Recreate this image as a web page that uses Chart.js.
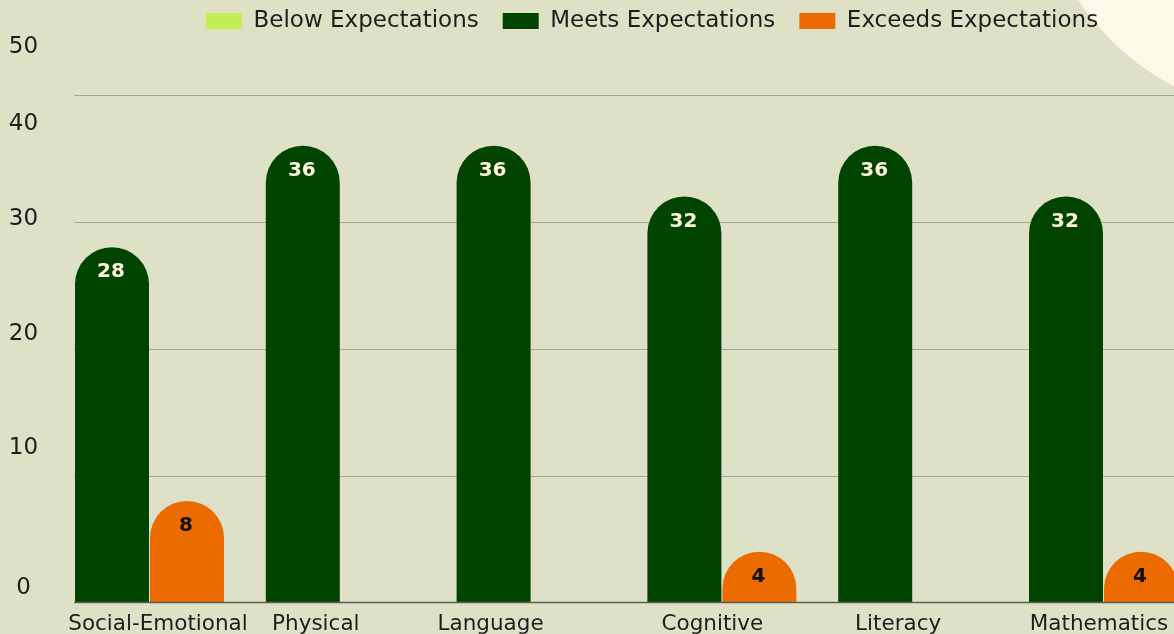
<!DOCTYPE html>
<html>
<head>
<meta charset="utf-8">
<script src="https://cdn.jsdelivr.net/npm/chart.js@4.4.1/dist/chart.umd.min.js"></script>
<style>
html,body{margin:0;padding:0;background:#dee1c6;overflow:hidden}
#wrap{width:1174px;height:634px;position:relative}
canvas{display:block}
</style>
</head>
<body>
<div id="wrap"><canvas id="c" width="1174" height="634"></canvas></div>
<script>
// ---- data ----
const categories = ['Social-Emotional', 'Physical', 'Language', 'Cognitive', 'Literacy', 'Mathematics'];
const seriesNames = ['Below Expectations', 'Meets Expectations', 'Exceeds Expectations'];
const belowValues = [0, 0, 0, 0, 0, 0];
const meetsValues = [28, 36, 36, 32, 36, 32];
const exceedsValues = [8, 0, 0, 4, 0, 4];
const yTickLabels = ['0', '10', '20', '30', '40', '50'];
const gridValues = [10, 20, 30, 40];

// ---- styling / layout ----
const FONT = '"DejaVu Sans", "Liberation Sans", sans-serif';
const BG = '#dee1c6';
const BLOB = '#fdf8e7';
const TEXT = '#1e1e1e';
const COLORS = ['#c3ed50', '#004400', '#ec6b00'];
const VALUE_COLORS = ['#111111', '#fdf4da', '#111111'];
const GRID_COLOR = '#a3a690';
const AXIS_COLOR = '#5c5e54';
const GRID_LEFT = 74;
const Y_LABEL_X = 23.5;
const Y_LABEL_Y = [588, 448, 334, 219, 124, 47];     // visual placement of the y tick labels
const X_LABEL_SHIFT = [46, 13, -3, 28, 23, 33];       // label offset from category centre
const X_LABEL_BASELINE = 630;
const LEGEND_X = 206, LEGEND_Y = 9.5, LEGEND_BAND = 95, LEGEND_PAD = 24;

// Bars with a full half-round top (dome), drawn from the element geometry computed by Chart.js
Chart.BarElement.prototype.draw = function (ctx) {
  const {x, y, base, width} = this.getProps(['x', 'y', 'base', 'width']);
  const h = base - y;
  if (!(h > 0.5)) return;
  const rx = width / 2;
  const ry = Math.min(rx, h);
  ctx.save();
  ctx.fillStyle = this.options.backgroundColor;
  ctx.beginPath();
  ctx.moveTo(x - rx, base);
  ctx.lineTo(x - rx, y + ry);
  ctx.ellipse(x, y + ry, rx, ry, 0, Math.PI, 2 * Math.PI);
  ctx.lineTo(x + rx, base);
  ctx.closePath();
  ctx.fill();
  ctx.restore();
};

const backdrop = {
  id: 'backdrop',
  beforeDraw(chart) {
    const ctx = chart.ctx;
    ctx.save();
    ctx.fillStyle = BG;
    ctx.fillRect(0, 0, chart.width, chart.height);
    ctx.fillStyle = BLOB;
    ctx.beginPath();
    ctx.arc(1300, -150, 268, 0, 2 * Math.PI);
    ctx.fill();
    ctx.restore();
  }
};

const gridAndAxes = {
  id: 'gridAndAxes',
  beforeDatasetsDraw(chart) {
    const ctx = chart.ctx;
    const ys = chart.scales.y;
    const xs = chart.scales.x;
    ctx.save();
    ctx.strokeStyle = GRID_COLOR;
    ctx.lineWidth = 1.2;
    gridValues.forEach(v => {
      const py = Math.round(ys.getPixelForValue(v)) + 0.5;
      ctx.beginPath();
      ctx.moveTo(GRID_LEFT, py);
      ctx.lineTo(chart.width, py);
      ctx.stroke();
    });
    // y tick labels
    ctx.fillStyle = TEXT;
    ctx.font = '23px ' + FONT;
    ctx.textAlign = 'center';
    ctx.textBaseline = 'middle';
    yTickLabels.forEach((t, i) => ctx.fillText(t, Y_LABEL_X, Y_LABEL_Y[i]));
    // x category labels
    ctx.font = '21.5px ' + FONT;
    ctx.textBaseline = 'alphabetic';
    categories.forEach((c, i) => {
      ctx.fillText(c, xs.getPixelForValue(i) + X_LABEL_SHIFT[i], X_LABEL_BASELINE);
    });
    ctx.restore();
  },
  afterDatasetsDraw(chart) {
    const ctx = chart.ctx;
    const ys = chart.scales.y;
    ctx.save();
    ctx.strokeStyle = AXIS_COLOR;
    ctx.lineWidth = 1.6;
    const py = ys.getPixelForValue(0);
    ctx.beginPath();
    ctx.moveTo(GRID_LEFT, py);
    ctx.lineTo(chart.width, py);
    ctx.stroke();
    // value labels
    ctx.font = 'bold 20px ' + FONT;
    ctx.textAlign = 'center';
    ctx.textBaseline = 'middle';
    chart.data.datasets.forEach((ds, di) => {
      const meta = chart.getDatasetMeta(di);
      meta.data.forEach((el, i) => {
        const v = ds.data[i];
        if (!v) return;
        ctx.fillStyle = VALUE_COLORS[di];
        ctx.fillText(String(v), el.x - 1, el.y + 25);
      });
    });
    ctx.restore();
  }
};

const legendPlacement = {
  id: 'legendPlacement',
  beforeLayout(chart) {
    const lg = chart.legend;
    if (lg && !lg._fitPatched) {
      const orig = lg.fit;
      lg.fit = function () { orig.call(this); this.height = LEGEND_BAND; };
      lg._fitPatched = true;
    }
  },
  afterLayout(chart) {
    const lg = chart.legend;
    if (!lg) return;
    lg.left = LEGEND_X - LEGEND_PAD;
    lg.right = chart.width + 100;
    lg.width = lg.right - lg.left;
    lg.top = LEGEND_Y - LEGEND_PAD;
  }
};

const valueSets = [belowValues, meetsValues, exceedsValues];

new Chart(document.getElementById('c'), {
  type: 'bar',
  data: {
    labels: categories,
    datasets: seriesNames.map((name, i) => ({
      label: name,
      data: valueSets[i],
      backgroundColor: COLORS[i],
      borderWidth: 0,
      clip: false,
      categoryPercentage: 225 / 190.8,
      barPercentage: 74 / 75
    }))
  },
  options: {
    responsive: false,
    animation: false,
    devicePixelRatio: 1,
    layout: {padding: {left: 16.6, right: 12.6, top: 0, bottom: 31.5}},
    scales: {
      x: {display: false, offset: true},
      y: {display: false, min: 0, max: 40}
    },
    plugins: {
      legend: {
        display: true,
        position: 'top',
        align: 'start',
        labels: {
          boxWidth: 36,
          boxHeight: 16,
          padding: LEGEND_PAD,
          color: TEXT,
          font: {family: FONT, size: 23}
        }
      },
      tooltip: {enabled: false}
    }
  },
  plugins: [backdrop, gridAndAxes, legendPlacement]
});
</script>
</body>
</html>
